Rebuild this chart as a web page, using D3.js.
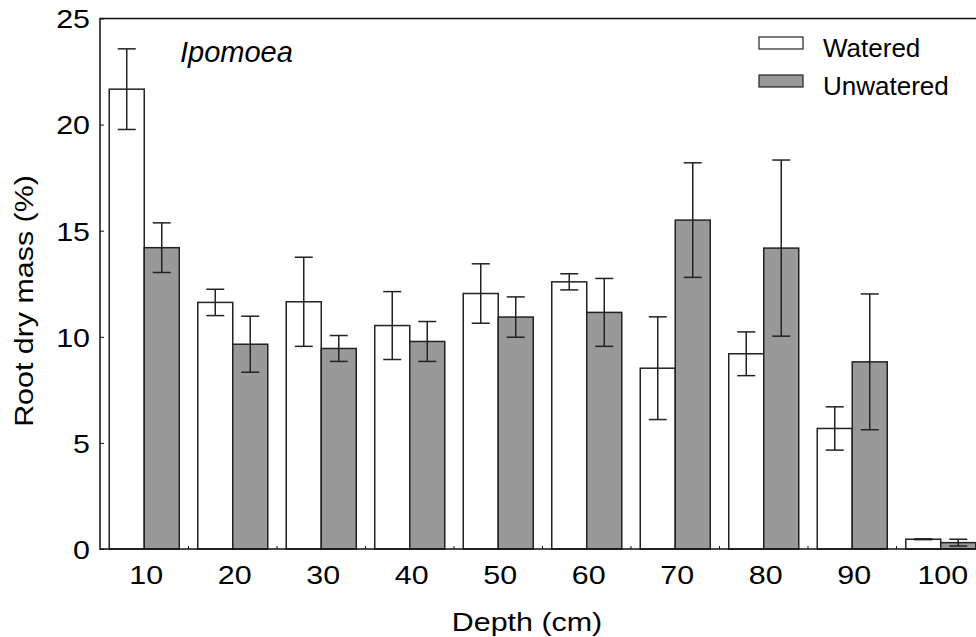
<!DOCTYPE html>
<html>
<head>
<meta charset="utf-8">
<script src="https://cdn.jsdelivr.net/npm/d3@7/dist/d3.min.js"></script>
<style>
  html, body { margin: 0; padding: 0; background: #fff; }
  svg { display: block; }
  text { font-family: "Liberation Sans", Arial, Helvetica, sans-serif; fill: #000; }
</style>
</head>
<body>
<svg id="chart" width="976" height="637"></svg>
<script>
// ---- data ----
const depths = ["10", "20", "30", "40", "50", "60", "70", "80", "90", "100"];
const seriesNames = ["Watered", "Unwatered"];
const wateredMean = [21.67, 11.62, 11.65, 10.53, 12.04, 12.59, 8.52, 9.20, 5.68, 0.46];
const wateredErr  = [1.90, 0.62, 2.10, 1.60, 1.40, 0.38, 2.42, 1.03, 1.02, 0.02];
const unwateredMean = [14.20, 9.65, 9.45, 9.78, 10.93, 11.15, 15.50, 14.18, 8.82, 0.30];
const unwateredErr  = [1.17, 1.32, 0.61, 0.94, 0.95, 1.60, 2.70, 4.15, 3.20, 0.16];
const yTicks = [0, 5, 10, 15, 20, 25];
const panelLabel = "Ipomoea";
const xTitle = "Depth (cm)";
const yTitle = "Root dry mass (%)";

(function () {
// ---- layout ----
const svg = d3.select("#chart");
const pL = 100, pR = 985, pT = 18.5, pB = 549;
const fs = 26;
const sx = 1.17; // horizontal stretch of axis text

const x = d3.scaleBand().domain(depths).range([pL, pR]).paddingInner(0.209).paddingOuter(0.1045);
const xs = d3.scaleBand().domain(seriesNames).range([0, x.bandwidth()]).padding(0);
const y = d3.scaleLinear().domain([0, 25]).range([pB, pT]);
const color = d3.scaleOrdinal().domain(seriesNames).range(["#ffffff", "#999999"]);

const rows = depths.map((d, i) => ({
  depth: d,
  vals: [
    { s: "Watered", m: wateredMean[i], e: wateredErr[i] },
    { s: "Unwatered", m: unwateredMean[i], e: unwateredErr[i] }
  ]
}));

// bars
const g = svg.append("g");
const grp = g.selectAll("g.grp").data(rows).join("g")
  .attr("class", "grp")
  .attr("transform", d => `translate(${x(d.depth)},0)`);

grp.selectAll("rect").data(d => d.vals).join("rect")
  .attr("x", d => xs(d.s))
  .attr("y", d => y(d.m))
  .attr("width", xs.bandwidth())
  .attr("height", d => y(0) - y(d.m))
  .attr("fill", d => color(d.s))
  .attr("stroke", "#222")
  .attr("stroke-width", 1.5);

// error bars
const capW = 18;
const eb = grp.selectAll("g.eb").data(d => d.vals).join("g")
  .attr("class", "eb")
  .attr("stroke", "#222").attr("stroke-width", 1.5);
eb.append("line")
  .attr("x1", d => xs(d.s) + xs.bandwidth() / 2)
  .attr("x2", d => xs(d.s) + xs.bandwidth() / 2)
  .attr("y1", d => y(d.m + d.e))
  .attr("y2", d => y(d.m - d.e));
eb.append("line")
  .attr("x1", d => xs(d.s) + xs.bandwidth() / 2 - capW / 2)
  .attr("x2", d => xs(d.s) + xs.bandwidth() / 2 + capW / 2)
  .attr("y1", d => y(d.m + d.e))
  .attr("y2", d => y(d.m + d.e));
eb.append("line")
  .attr("x1", d => xs(d.s) + xs.bandwidth() / 2 - capW / 2)
  .attr("x2", d => xs(d.s) + xs.bandwidth() / 2 + capW / 2)
  .attr("y1", d => y(d.m - d.e))
  .attr("y2", d => y(d.m - d.e));

// frame (left, top, bottom)
svg.append("path")
  .attr("d", `M${976},${pT} H${pL} V${pB} H${976}`)
  .attr("fill", "none").attr("stroke", "#111").attr("stroke-width", 1.5);

// y axis
const yAxis = d3.axisLeft(y).tickValues(yTicks).tickSize(-4).tickPadding(0).tickSizeOuter(0);
const ya = svg.append("g").attr("transform", `translate(${pL},0)`).call(yAxis);
ya.select(".domain").remove();
ya.selectAll(".tick line").attr("stroke", "#111").attr("stroke-width", 1);
ya.selectAll(".tick text")
  .attr("x", -10 / sx)
  .attr("dy", "0.36em")
  .attr("transform", `scale(${sx},1)`)
  .attr("font-size", fs)
  .attr("fill", "#000")
  .attr("font-family", "'Liberation Sans', Arial, sans-serif");

// x axis
const xAxis = d3.axisBottom(x).tickSize(0).tickPadding(0);
const xa = svg.append("g").attr("transform", `translate(0,${pB})`).call(xAxis);
xa.select(".domain").remove();
xa.selectAll(".tick text")
  .attr("y", 35)
  .attr("dy", 0)
  .attr("x", 2 / sx)
  .attr("transform", `scale(${sx},1)`)
  .attr("font-size", fs)
  .attr("fill", "#000")
  .attr("font-family", "'Liberation Sans', Arial, sans-serif");

// group boundary tick marks
const halfGap = x.step() * x.paddingInner() / 2;
svg.append("g").selectAll("line").data(depths.slice(0, -1)).join("line")
  .attr("x1", d => x(d) + x.bandwidth() + halfGap)
  .attr("x2", d => x(d) + x.bandwidth() + halfGap)
  .attr("y1", pB)
  .attr("y2", pB - 3)
  .attr("stroke", "#111").attr("stroke-width", 1);

// titles
svg.append("text")
  .attr("transform", `translate(527,631) scale(${sx},1)`)
  .attr("text-anchor", "middle")
  .attr("font-size", fs)
  .text(xTitle);

svg.append("text")
  .attr("transform", `translate(33,301) rotate(-90) scale(${sx},1)`)
  .attr("text-anchor", "middle")
  .attr("font-size", fs)
  .text(yTitle);

svg.append("text")
  .attr("x", 180).attr("y", 62)
  .attr("font-size", 29)
  .attr("font-style", "italic")
  .text(panelLabel);

// legend
const lg = svg.append("g").attr("transform", "translate(759,37)");
const li = lg.selectAll("g").data(seriesNames).join("g")
  .attr("transform", (d, i) => `translate(0,${i * 38})`);
li.append("rect")
  .attr("width", 44).attr("height", 12)
  .attr("fill", d => color(d))
  .attr("stroke", "#222").attr("stroke-width", 1.2);
li.append("text")
  .attr("x", 64).attr("y", 19.5)
  .attr("font-size", fs)
  .text(d => d);
})();
</script>
</body>
</html>
